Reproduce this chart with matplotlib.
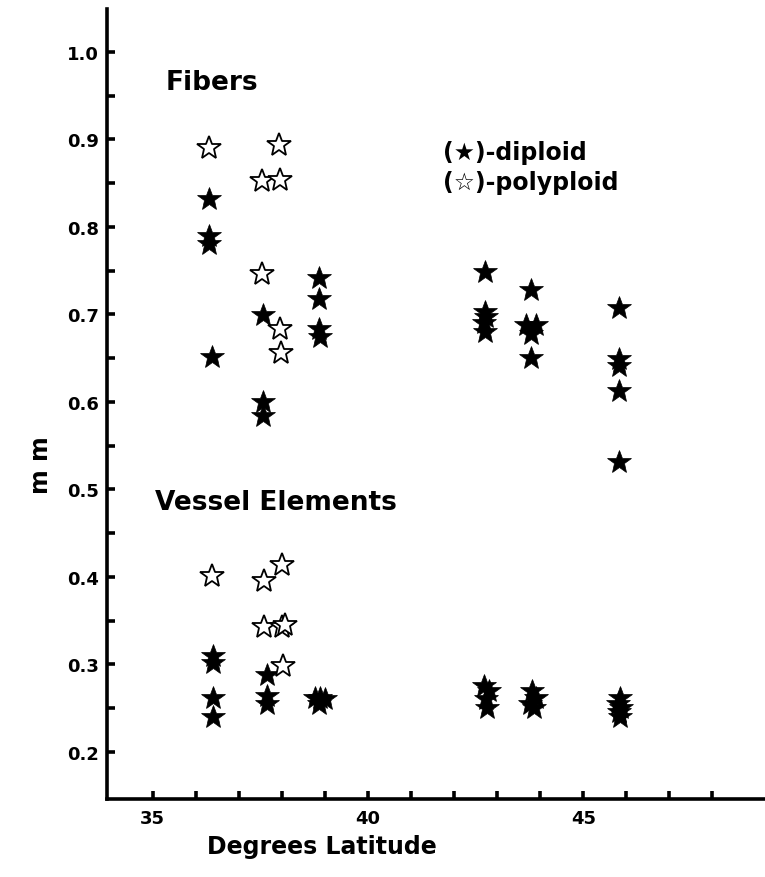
import matplotlib
matplotlib.use("Agg")
import matplotlib.pyplot as plt
from matplotlib.ticker import FixedLocator

# ---- data ----
fib_dip_lat = [36.30, 36.30, 36.30, 36.38, 37.55, 37.55, 37.55,
               38.87, 38.87, 38.85, 38.88,
               42.72, 42.72, 42.74, 42.70, 42.72,
               43.78, 43.68, 43.90, 43.78, 43.78,
               45.83, 45.83, 45.83, 45.83, 45.83]
fib_dip_mm = [0.832, 0.790, 0.780, 0.651, 0.699, 0.600, 0.584,
              0.741, 0.718, 0.683, 0.674,
              0.748, 0.703, 0.697, 0.690, 0.680,
              0.728, 0.688, 0.688, 0.678, 0.650,
              0.707, 0.649, 0.641, 0.612, 0.531]
fib_poly_lat = [36.31, 37.94, 37.53, 37.96, 37.53, 37.96, 37.98]
fib_poly_mm = [0.890, 0.894, 0.852, 0.853, 0.746, 0.683, 0.656]

ves_dip_lat = [36.41, 36.41, 36.41, 36.41, 37.65, 37.65, 37.65,
               38.78, 38.89, 39.00, 38.85,
               42.70, 42.80, 42.74, 42.76,
               43.80, 43.90, 43.76, 43.86,
               45.85, 45.80, 45.88, 45.83, 45.85]
ves_dip_mm = [0.310, 0.301, 0.261, 0.240, 0.288, 0.264, 0.255,
              0.261, 0.262, 0.260, 0.255,
              0.275, 0.270, 0.260, 0.250,
              0.270, 0.262, 0.255, 0.250,
              0.262, 0.255, 0.250, 0.245, 0.240]
ves_poly_lat = [36.38, 37.59, 38.01, 37.59, 38.01, 38.08, 38.03]
ves_poly_mm = [0.401, 0.395, 0.413, 0.343, 0.343, 0.345, 0.298]

x_major = [35, 40, 45]
x_minor = list(range(35, 49))
y_major = [0.2, 0.3, 0.4, 0.5, 0.6, 0.7, 0.8, 0.9, 1.0]
y_minor = [0.25, 0.35, 0.45, 0.55, 0.65, 0.75, 0.85, 0.95, 1.05]

# ---- figure ----
plt.rcParams['font.family'] = ['DejaVu Sans']
fig = plt.figure(figsize=(7.65, 8.78), dpi=100)
ax = fig.add_axes([0.140, 0.0888, 0.860, 0.8998])
ax.set_xlim(33.94, 49.22)
ax.set_ylim(0.146, 1.049)

ms = 18
ax.plot(fib_dip_lat, fib_dip_mm, '*', color='black', ms=ms, mew=0.5, ls='none')
ax.plot(ves_dip_lat, ves_dip_mm, '*', color='black', ms=ms, mew=0.5, ls='none')
ax.plot(fib_poly_lat, fib_poly_mm, '*', mfc='white', mec='black', ms=ms, mew=1.3, ls='none')
ax.plot(ves_poly_lat, ves_poly_mm, '*', mfc='white', mec='black', ms=ms, mew=1.3, ls='none')

for s in ['top', 'right']:
    ax.spines[s].set_visible(False)
for s in ['left', 'bottom']:
    ax.spines[s].set_linewidth(2.6)

ax.xaxis.set_major_locator(FixedLocator(x_major))
ax.xaxis.set_minor_locator(FixedLocator(x_minor))
ax.yaxis.set_major_locator(FixedLocator(y_major))
ax.yaxis.set_minor_locator(FixedLocator(y_minor))
ax.set_xticklabels([str(v) for v in x_major])
ax.set_yticklabels(['%.1f' % v for v in y_major])
ax.tick_params(which='both', direction='in', length=6, width=2.6, labelsize=13)
ax.tick_params(axis='y', pad=6)
ax.tick_params(axis='x', pad=7)
for lab in ax.get_xticklabels() + ax.get_yticklabels():
    lab.set_fontweight('bold')

ax.set_xlabel('Degrees Latitude', fontsize=17, fontweight='bold')
ax.xaxis.set_label_coords(0.327, -0.060)
ax.xaxis.label.set_va('center')
ax.set_ylabel('m m', fontsize=17, fontweight='bold')
ax.yaxis.set_label_coords(-0.100, 0.424)
ax.yaxis.label.set_va('center')

ax.text(35.29, 0.966, 'Fibers', fontsize=19, fontweight='bold', va='center', ha='left')
ax.text(35.06, 0.486, 'Vessel Elements', fontsize=19, fontweight='bold', va='center', ha='left')
ax.text(41.74, 0.885, '(\u2605)-diploid', fontsize=17, fontweight='bold', va='center', ha='left')
ax.text(41.74, 0.851, '(\u2606)-polyploid', fontsize=17, fontweight='bold', va='center', ha='left')

fig.savefig('out.png', dpi=100)
